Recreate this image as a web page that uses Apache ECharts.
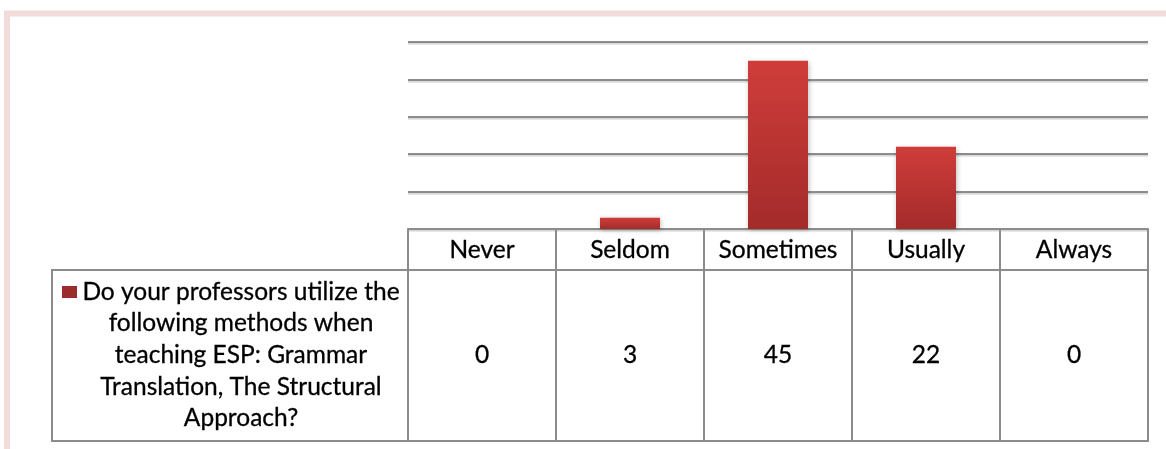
<!DOCTYPE html>
<html>
<head>
<meta charset="utf-8">
<script src="https://cdn.jsdelivr.net/npm/echarts@6/dist/echarts.min.js"></script>
<style>
  html, body { margin: 0; padding: 0; background: #ffffff; }
  #chart { width: 1166px; height: 449px; }
</style>
</head>
<body>
<div id="chart"></div>
<script>
// Survey answers (frequency scale) and response counts
const categories = ['Never', 'Seldom', 'Sometimes', 'Usually', 'Always'];
const counts = [0, 3, 45, 22, 0];
const seriesName = 'Do your professors utilize the\nfollowing methods when\nteaching ESP: Grammar\nTranslation, The Structural\nApproach?';

const FONT = 'Lato';
const FONT_SIZE = 24.5;
const TEXT_WEIGHT_STROKE = 0.3;
const GRID_COLOR = '#8c8c8c';
const BAR_TOP = '#cf3d3a';
const BAR_BOTTOM = '#a32b2a';
const MARKER = '#9a2c2b';

const chart = echarts.init(document.getElementById('chart'), null, { renderer: 'canvas' });

// Geometry of the data table beneath the plot
const gridLeft = 408, gridRight = 1148, axisY = 229;
const headerBottom = 270, tableBottom = 441, tableLeft = 52;

// a hairline outline gives the axis text a slightly heavier stroke
const labelBase = {
  fontFamily: FONT, fontSize: FONT_SIZE, color: '#000000',
  textBorderColor: '#000000', textBorderWidth: TEXT_WEIGHT_STROKE
};

chart.setOption({
  animation: false,
  backgroundColor: '#ffffff',
  grid: { left: gridLeft, right: 1166 - gridRight, top: 42, bottom: 449 - axisY, containLabel: false },
  xAxis: [
    {
      type: 'category',
      data: categories,
      position: 'bottom',
      axisLine: { show: true, lineStyle: { color: GRID_COLOR, width: 2 } },
      axisTick: { show: true, interval: 0, length: tableBottom - axisY, lineStyle: { color: GRID_COLOR, width: 2 } },
      axisLabel: Object.assign({ show: true, interval: 0, hideOverlap: false, margin: 21, verticalAlign: 'middle' }, labelBase)
    },
    {
      type: 'category',
      data: categories,
      position: 'bottom',
      gridIndex: 0,
      axisLine: { show: false },
      axisTick: { show: false },
      axisLabel: Object.assign({
        show: true, interval: 0, hideOverlap: false, margin: 126, verticalAlign: 'middle',
        formatter: (v, i) => String(counts[i])
      }, labelBase)
    }
  ],
  yAxis: {
    type: 'value',
    min: 0, max: 50, interval: 10,
    axisLine: { show: false },
    axisTick: { show: false },
    axisLabel: { show: false },
    splitLine: {
      show: true,
      lineStyle: { color: GRID_COLOR, width: 2, shadowColor: 'rgba(0,0,0,0.18)', shadowOffsetY: 1.5, shadowBlur: 1 }
    }
  },
  series: [{
    name: seriesName,
    type: 'bar',
    xAxisIndex: 0,
    data: counts,
    barWidth: 60,
    itemStyle: {
      color: new echarts.graphic.LinearGradient(0, 0, 0, 1, [
        { offset: 0, color: BAR_TOP },
        { offset: 1, color: BAR_BOTTOM }
      ]),
      shadowColor: 'rgba(0,0,0,0.25)', shadowBlur: 5, shadowOffsetX: 1, shadowOffsetY: 1
    }
  }],
  graphic: [
    // pink page frame
    { type: 'polyline', silent: true, shape: { points: [[7, 449], [7, 13.5], [1166, 13.5]] },
      style: { stroke: '#f2dcdb', lineWidth: 6, fill: null } },
    // table outline around the series label cell
    { type: 'line', shape: { x1: tableLeft, y1: headerBottom, x2: gridRight + 1, y2: headerBottom },
      style: { stroke: GRID_COLOR, lineWidth: 2 } },
    { type: 'line', shape: { x1: tableLeft, y1: tableBottom, x2: gridRight + 1, y2: tableBottom },
      style: { stroke: GRID_COLOR, lineWidth: 2 } },
    { type: 'line', shape: { x1: tableLeft, y1: headerBottom - 1, x2: tableLeft, y2: tableBottom + 1 },
      style: { stroke: GRID_COLOR, lineWidth: 2 } },
    // legend key
    { type: 'rect', shape: { x: 62, y: 286, width: 15, height: 12 }, style: { fill: MARKER } },
    // series name
    { type: 'text', x: 241, y: 355,
      style: {
        text: seriesName, align: 'center', verticalAlign: 'middle', lineHeight: 31.6,
        fontFamily: FONT, fontSize: FONT_SIZE, fill: '#000000',
        stroke: '#000000', lineWidth: TEXT_WEIGHT_STROKE
      } }
  ]
});
</script>
</body>
</html>
